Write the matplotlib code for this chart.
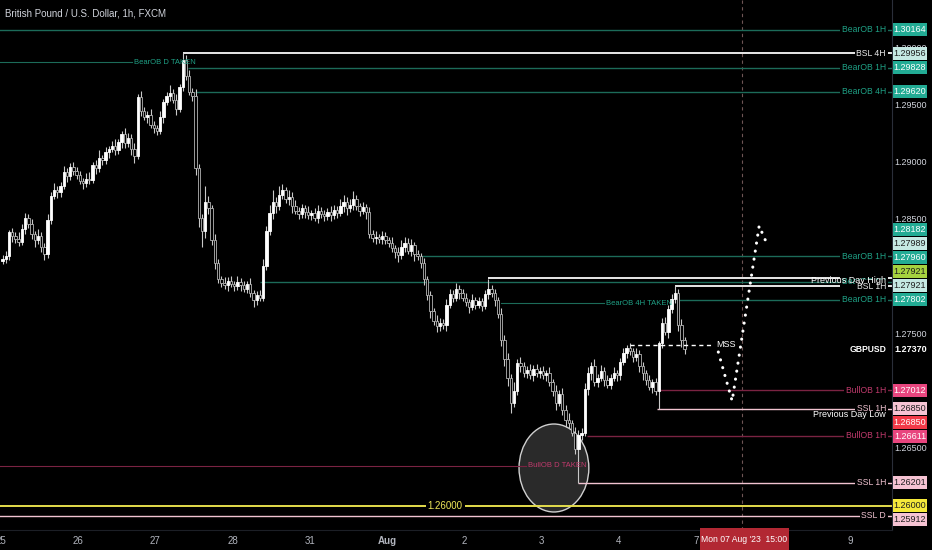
import matplotlib.pyplot as plt
from matplotlib.patches import Rectangle, Ellipse
import matplotlib.transforms as mtransforms

plt.rcParams['font.family'] = ['Liberation Sans', 'DejaVu Sans']

# GBPUSD 1h candles, Jul 25 .. Aug 4 (one row of closes per trading day)
first_open = 1.2814
closes = [
    1.2816, 1.2818, 1.2839, 1.2836, 1.2833, 1.2831, 1.2842, 1.2852, 1.2846, 1.2838, 1.2832, 1.2836,
    1.2826, 1.2820, 1.2850, 1.2871, 1.2876, 1.2874, 1.2880, 1.2892, 1.2888, 1.2896, 1.2893, 1.2889,
    1.2884, 1.2882, 1.2886, 1.2885, 1.2898, 1.2895, 1.2904, 1.2902, 1.2909, 1.2912, 1.2915, 1.2911,
    1.2918, 1.2925, 1.2917, 1.2922, 1.2912, 1.2906, 1.2957, 1.2945, 1.2940, 1.2942, 1.2933, 1.2930,
    1.2928, 1.2940, 1.2953, 1.2958, 1.2961, 1.2955, 1.2947, 1.2966, 1.2990, 1.2976, 1.2962, 1.2958,
    1.2895, 1.2852, 1.2840, 1.2866, 1.2860, 1.2832, 1.2812, 1.2798, 1.2795, 1.2793, 1.2797, 1.2794,
    1.2792, 1.2796, 1.2793, 1.2790, 1.2794, 1.2786, 1.2780, 1.2784, 1.2782, 1.2810, 1.2840, 1.2856,
    1.2866, 1.2862, 1.2872, 1.2876, 1.2868, 1.2870, 1.2862, 1.2858, 1.2855, 1.2860, 1.2857, 1.2854,
    1.2856, 1.2852, 1.2858, 1.2855, 1.2853, 1.2857, 1.2854, 1.2859, 1.2856, 1.2862, 1.2866, 1.2860,
    1.2863, 1.2868, 1.2862, 1.2858, 1.2861, 1.2857, 1.2838, 1.2834, 1.2835, 1.2833, 1.2836, 1.2832,
    1.2830, 1.2825, 1.2822, 1.2819, 1.2826, 1.2830, 1.2823, 1.2828, 1.2820, 1.2818, 1.2812, 1.2798,
    1.2784, 1.2770, 1.2762, 1.2757, 1.2760, 1.2758, 1.2776, 1.2785, 1.2782, 1.2790, 1.2786, 1.2782,
    1.2778, 1.2774, 1.2780, 1.2776, 1.2779, 1.2775, 1.2785, 1.2790, 1.2786, 1.2780, 1.2768, 1.2745,
    1.2728, 1.2712, 1.2690, 1.2700, 1.2725, 1.2722, 1.2716, 1.2719, 1.2714, 1.2720, 1.2716, 1.2718,
    1.2714, 1.2716, 1.2708, 1.2700, 1.2690, 1.2698, 1.2684, 1.2675, 1.2672, 1.2664, 1.2650, 1.2662,
    1.2664, 1.2702, 1.2716, 1.2722, 1.2708, 1.2712, 1.2718, 1.2710, 1.2706, 1.2712, 1.2716, 1.2714,
    1.2726, 1.2734, 1.2738, 1.2735, 1.2730, 1.2733, 1.2722, 1.2716, 1.2710, 1.2704, 1.2708, 1.2700,
    1.2742, 1.2760, 1.2752, 1.2772, 1.2781, 1.2786, 1.2758, 1.2745, 1.2737,
]
# wick lengths in pips beyond the body
upper_wick = [
    3, 5, 2, 4, 3, 6, 4, 4, 3, 5, 2, 6, 3, 4, 5, 3, 6, 4, 3, 5, 3, 4, 5, 3,
    4, 3, 5, 6, 3, 4, 7, 3, 5, 3, 4, 6, 3, 3, 5, 4, 3, 5, 3, 6, 4, 3, 5, 3,
    3, 5, 3, 4, 7, 3, 5, 3, 6, 4, 5, 3, 6, 4, 3, 14, 5, 3, 6, 4, 3, 5, 3, 4,
    3, 5, 3, 4, 3, 5, 3, 4, 5, 6, 5, 7, 10, 4, 8, 5, 3, 6, 4, 5, 3, 4, 3, 5,
    3, 4, 5, 3, 4, 3, 5, 4, 3, 6, 6, 4, 5, 7, 4, 3, 5, 3, 4, 3, 5, 3, 4, 3,
    3, 5, 3, 4, 6, 5, 4, 5, 3, 4, 3, 5, 3, 4, 3, 5, 4, 3, 5, 5, 4, 5, 3, 4,
    4, 3, 5, 3, 4, 3, 4, 8, 3, 4, 3, 5, 4, 6, 3, 8, 3, 5, 4, 3, 5, 3, 4, 3,
    4, 3, 5, 3, 6, 3, 5, 4, 6, 3, 5, 4, 4, 5, 5, 4, 6, 3, 5, 3, 4, 3, 5, 3,
    3, 4, 3, 4, 3, 5, 3, 4, 3, 4, 3, 4, 2, 4, 5, 4, 4, 6, 4, 5, 3,
]
lower_wick = [
    3, 4, 3, 5, 3, 4, 3, 4, 3, 5, 6, 3, 4, 5, 3, 4, 3, 5, 4, 3, 5, 3, 4, 3,
    3, 5, 3, 4, 3, 5, 3, 4, 3, 5, 3, 4, 3, 5, 4, 3, 5, 6, 3, 4, 3, 5, 3, 4,
    4, 3, 5, 3, 4, 3, 5, 3, 3, 4, 3, 4, 6, 8, 14, 6, 5, 4, 5, 3, 4, 3, 5, 3,
    4, 3, 5, 3, 4, 3, 6, 4, 3, 3, 4, 3, 5, 6, 3, 4, 3, 5, 6, 3, 4, 3, 5, 3,
    4, 3, 5, 3, 4, 3, 5, 3, 4, 3, 5, 6, 3, 4, 3, 5, 3, 6, 4, 3, 5, 3, 4, 3,
    4, 3, 5, 6, 3, 4, 3, 5, 6, 3, 4, 5, 4, 6, 4, 5, 4, 3, 5, 3, 4, 3, 5, 3,
    3, 5, 3, 4, 3, 5, 3, 4, 3, 5, 4, 5, 6, 7, 9, 4, 3, 5, 3, 4, 3, 5, 3, 4,
    3, 5, 3, 4, 6, 3, 5, 6, 4, 3, 5, 30, 4, 3, 5, 6, 3, 4, 3, 5, 3, 4, 3, 5,
    4, 3, 5, 3, 4, 3, 5, 6, 4, 3, 5, 3, 15, 4, 3, 5, 3, 4, 5, 6, 4,
]

# the "8" label of the time axis is hidden under the cursor date in the reference
day_labels = ['25', '26', '27', '28', '31', 'Aug', '2', '3', '4', '7', '9']
day_numbers = [0, 1, 2, 3, 4, 5, 6, 7, 8, 9, 11]
last_price = 1.27370

# liquidity / order block levels
level_prices = [1.30164, 1.29956, 1.29828, 1.29620, 1.28182, 1.27989, 1.27960,
                1.27921, 1.27802, 1.27012, 1.26850, 1.26611, 1.26201, 1.26000, 1.25912]
level_start = [-2, 56, 57.5, 59.7, 130, 151, 80, 209, 210, 203.5, 203.5, 181.8, 179, -2, -2]
level_kind = ['bear', 'bsl', 'bear', 'bear', 'bear', 'bsl', 'bear',
              'bsl', 'bear', 'bull', 'ssl', 'bull', 'ssl', 'round', 'ssl']
level_text = ['BearOB 1H', 'BSL 4H', 'BearOB 1H', 'BearOB 4H', 'BearOB 1H', '', 'BearOB 1H',
              'BSL 1H', 'BearOB 1H', 'BullOB 1H', 'SSL 1H', 'BullOB 1H', 'SSL 1H', '1.26000', 'SSL D']

taken_text = ['BearOB D TAKEN', 'BearOB 4H TAKEN', 'BullOB D TAKEN']
taken_price = [1.29878, 1.27771, 1.26351]
taken_start = [-2, 154.8, -2]
taken_end = [40.2, 187.0, 162.6]
taken_kind = ['bear', 'bear', 'bull']

prev_day_text = ['Previous Day High', 'Previous Day Low']
prev_day_price = [1.27921, 1.26850]

# price-scale labels
box_prices = [1.30164, 1.29956, 1.29828, 1.29620, 1.28182, 1.27989, 1.27960, 1.27921, 1.27921,
              1.27802, 1.27012, 1.26850, 1.26850, 1.26611, 1.26201, 1.26000, 1.25912]
box_kind = ['teal', 'bsl', 'teal', 'teal', 'teal', 'bsl', 'teal', 'pdh', 'bsl',
            'teal', 'bull', 'ssl', 'pdl', 'bull', 'ssl', 'round', 'ssl']
tick_prices = [1.300, 1.295, 1.290, 1.285, 1.275, 1.265]

mss_price = 1.27407
mss_bars = [195.2, 221.2]
proj_bars = [222.5, 226.8, 235.2, 237.1]
proj_prices = [1.27345, 1.26917, 1.28447, 1.28324]
ob_circle = (171.4, 1.26331)
cursor_bar = 229.9

PX = 11440  # pixels per 1.0 of price
fig = plt.figure(figsize=(9.32, 5.5), dpi=100, facecolor='black')
ax = fig.add_axes([0, 20 / 550, 892 / 932, 530 / 550], facecolor='black')
ax.set_xlim(-0.81, 276.5)
ax.set_ylim(1.25789, 1.30422)
xmax = ax.get_xlim()[1]
ytrans = mtransforms.blended_transform_factory(ax.transAxes, ax.transData)

# candles
opens = [first_open] + closes[:-1]
xs = list(range(len(closes)))
highs = [max(o, c) + u * 1e-4 for o, c, u in zip(opens, closes, upper_wick)]
lows = [min(o, c) - d * 1e-4 for o, c, d in zip(opens, closes, lower_wick)]
rising = [c >= o for o, c in zip(opens, closes)]
ax.vlines(xs, lows, highs, color='#c8c8c8', lw=0.8, zorder=3)
ax.bar(xs, [max(abs(c - o), 0.00005) for o, c in zip(opens, closes)],
       bottom=[min(o, c) for o, c in zip(opens, closes)], width=0.74,
       color=['#ffffff' if r else '#000000' for r in rising],
       edgecolor=['#ffffff' if r else '#b4b4b4' for r in rising], linewidth=0.6, zorder=4)

line_col = {'bear': '#1c6b59', 'bsl': '#e8e8e8', 'bull': '#7a2342', 'ssl': '#f1c3d1', 'round': '#e4dd4c'}
text_col = {'bear': '#1fa085', 'bsl': '#e8e8e8', 'bull': '#c03a6c', 'ssl': '#f1c3d1', 'round': '#f0e85a'}

for p, s, k, t in zip(level_prices, level_start, level_kind, level_text):
    ax.plot([s, xmax], [p, p], color=line_col[k], lw=1.4 if k in ('bsl', 'round') else 1.0,
            solid_capstyle='butt', zorder=2)
    if k == 'round':
        ax.text(137.6, p, t, ha='center', va='center', color=text_col[k], fontsize=7,
                bbox=dict(fc='black', ec='none', pad=1.5), zorder=6)
    elif t:
        ax.text(886 / 892, p, t, transform=ytrans, ha='right', va='center', color=text_col[k],
                fontsize=6.2, bbox=dict(fc='black', ec='none', pad=1.2), zorder=6)

for t, p, s, e, k in zip(taken_text, taken_price, taken_start, taken_end, taken_kind):
    ax.plot([s, e], [p, p], color=line_col[k], lw=0.8, zorder=2)
    ax.text(e + 0.6, p, t, ha='left', va='center', color=text_col[k], fontsize=5.5, zorder=6)

ax.text(886 / 892, prev_day_price[0] + 0.00008, prev_day_text[0], transform=ytrans, ha='right',
        va='bottom', color='white', fontsize=6.5, zorder=7)
ax.text(886 / 892, prev_day_price[1] - 0.00012, prev_day_text[1], transform=ytrans, ha='right',
        va='top', color='white', fontsize=6.5, zorder=7)
ax.text(886 / 892, last_price, 'GBPUSD', transform=ytrans, ha='right', va='center',
        color='white', fontsize=6.2, fontweight='bold', zorder=7)

ax.add_patch(Ellipse(ob_circle, 21.7, 0.00769, fc=(1, 1, 1, 0.17), ec='#d0d0d0', lw=1.0, zorder=1))

ax.plot(mss_bars, [mss_price, mss_price], color='white', lw=1.0, ls=(0, (3, 2.5)), zorder=5)
ax.text(mss_bars[1] + 0.8, mss_price, 'MSS', ha='left', va='center', color='white', fontsize=6.5, zorder=6)
ax.plot(proj_bars, proj_prices, color='white', lw=2.2, ls=(0, (0.05, 2.6)),
        dash_capstyle='round', zorder=5)

ax.axvline(cursor_bar, color='#6e5555', lw=0.8, ls=(0, (3, 3)), zorder=1)

ax.set_yticks([])
ax.set_xticks([24 * d - 0.5 for d in day_numbers], day_labels)
ax.tick_params(axis='x', length=0, colors='#b2b5be', labelsize=7, pad=4)
for lab in ax.get_xticklabels():
    if lab.get_text() == 'Aug':
        lab.set_fontweight('bold')
for s in ['top', 'left']:
    ax.spines[s].set_visible(False)
ax.spines['right'].set_color('#2a2e39')
ax.spines['bottom'].set_color('#1c1f26')

# price scale
pax = fig.add_axes([892 / 932, 20 / 550, 40 / 932, 530 / 550], facecolor='black')
pax.set_ylim(ax.get_ylim())
pax.set_xlim(0, 1)
pax.axis('off')
for t in tick_prices:
    pax.text(0.46, t, f'{t:.5f}', ha='center', va='center', color='#d1d4dc', fontsize=6.5, zorder=1)
pax.text(0.46, last_price, f'{last_price:.5f}', ha='center', va='center', color='white',
         fontsize=6.5, fontweight='bold', zorder=1)

box_fc = {'teal': '#22ab94', 'bsl': '#c5e9e3', 'pdh': '#a5d23f', 'bull': '#e8457e',
          'ssl': '#f6c3d3', 'pdl': '#f23a48', 'round': '#f5e93a'}
box_tc = {'teal': 'white', 'bsl': '#1e1e1e', 'pdh': '#1e1e1e', 'bull': 'white',
          'ssl': '#1e1e1e', 'pdl': 'white', 'round': '#1e1e1e'}
step = 14 / PX
hb = 13 / PX
above = [(p, k) for p, k in zip(box_prices, box_kind) if p > last_price][::-1]
below = [(p, k) for p, k in zip(box_prices, box_kind) if p < last_price]
placed = []
prev = None
for p, k in above:
    y = p if prev is None else max(p, prev + step)
    placed.append((y, p, k))
    prev = y
prev = None
for p, k in below:
    y = p if prev is None else min(p, prev - step)
    placed.append((y, p, k))
    prev = y
for y, p, k in placed:
    pax.add_patch(Rectangle((0.02, y - hb / 2), 0.86, hb, fc=box_fc[k], ec='none', zorder=3))
    pax.text(0.45, y, f'{p:.5f}', ha='center', va='center', color=box_tc[k], fontsize=6.5, zorder=4)

# cursor date
fig.add_artist(Rectangle((700 / 932, 0), 89 / 932, 22 / 550, transform=fig.transFigure,
                         fc='#b22833', ec='none', zorder=10))
fig.text(744.5 / 932, 11 / 550, "Mon 07 Aug '23  15:00", ha='center', va='center',
         color='white', fontsize=6.2, zorder=11)

fig.text(5 / 932, 1 - 14 / 550, 'British Pound / U.S. Dollar, 1h, FXCM', color='#d1d4dc',
         fontsize=7, va='center')

fig.savefig('out.png', dpi=100, facecolor='black')
